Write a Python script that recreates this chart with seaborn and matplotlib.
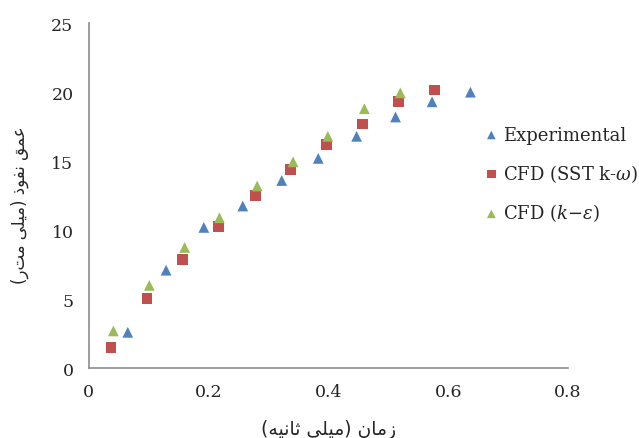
import numpy as np
import pandas as pd
import matplotlib
matplotlib.use("Agg")
import matplotlib.pyplot as plt
import seaborn as sns

# --- DATA ---
exp_x = [0.065, 0.129, 0.192, 0.257, 0.322, 0.383, 0.447, 0.512, 0.573, 0.637]
exp_y = [2.6, 7.1, 10.2, 11.75, 13.6, 15.2, 16.8, 18.2, 19.3, 20.0]

sst_x = [0.037, 0.097, 0.157, 0.217, 0.278, 0.337, 0.397, 0.457, 0.517, 0.577]
sst_y = [1.5, 5.05, 7.9, 10.25, 12.5, 14.4, 16.2, 17.7, 19.35, 20.15]

ke_x = [0.041, 0.101, 0.160, 0.218, 0.281, 0.341, 0.399, 0.460, 0.520]
ke_y = [2.7, 6.0, 8.75, 10.9, 13.2, 14.95, 16.8, 18.8, 19.95]

series_labels = ["Experimental", r"CFD (SST k-$\omega$)", r"CFD ($k\mathrm{-}\varepsilon$)"]
series_colors = ["#4F81BD", "#C0504D", "#9BBB59"]
series_markers = ["^", "s", "^"]

x_label = "زمان (میلی ثانیه)"
y_label = "عمق نفوذ (میلی متر)"

# --- minimal Arabic/Persian shaping (matplotlib has no bidi / joining) ---
FORMS = {
    # iso, fin, ini, med (None = right-joining only)
    "ز": ("\uFEAF", "\uFEB0", None, None),
    "ا": ("\uFE8D", "\uFE8E", None, None),
    "و": ("\uFEED", "\uFEEE", None, None),
    "ذ": ("\uFEAB", "\uFEAC", None, None),
    "م": ("\uFEE1", "\uFEE2", "\uFEE3", "\uFEE4"),
    "ن": ("\uFEE5", "\uFEE6", "\uFEE7", "\uFEE8"),
    "ی": ("\uFBFC", "\uFBFD", "\uFBFE", "\uFBFF"),
    "ل": ("\uFEDD", "\uFEDE", "\uFEDF", "\uFEE0"),
    "ث": ("\uFE99", "\uFE9A", "\uFE9B", "\uFE9C"),
    "ه": ("\uFEE9", "\uFEEA", "\uFEEB", "\uFEEC"),
    "ع": ("\uFEC9", "\uFECA", "\uFECB", "\uFECC"),
    "ق": ("\uFED5", "\uFED6", "\uFED7", "\uFED8"),
    "ف": ("\uFED1", "\uFED2", "\uFED3", "\uFED4"),
    "ت": ("\uFE95", "\uFE96", "\uFE97", "\uFE98"),
}


def shape_rtl(text):
    out = []
    n = len(text)
    for i, ch in enumerate(text):
        if ch not in FORMS:
            out.append(ch)
            continue
        prev = text[i - 1] if i > 0 else ""
        nxt = text[i + 1] if i < n - 1 else ""
        joins_prev = prev in FORMS and FORMS[prev][2] is not None
        can_next = FORMS[ch][2] is not None and nxt in FORMS
        iso, fin, ini, med = FORMS[ch]
        if joins_prev and can_next:
            out.append(med)
        elif joins_prev:
            out.append(fin)
        elif can_next:
            out.append(ini)
        else:
            out.append(iso)
    vis = "".join(out)[::-1]
    return vis.translate(str.maketrans("()", ")("))


# --- PLOT ---
sns.set_theme(style="white")
plt.rcParams["font.family"] = ["DejaVu Serif"]
plt.rcParams["mathtext.fontset"] = "dejavuserif"

fig = plt.figure(figsize=(6.39, 4.39), dpi=100)
ax = fig.add_axes([0.139, 0.159, 0.75, 0.786])

for xs, ys, lab, col, mk in zip([exp_x, sst_x, ke_x], [exp_y, sst_y, ke_y],
                                series_labels, series_colors, series_markers):
    df = pd.DataFrame({"t": xs, "d": ys})
    sns.scatterplot(data=df, x="t", y="d", color=col, marker=mk, s=60,
                    edgecolor="none", label=lab, ax=ax)

ax.set_xlim(0, 0.8)
ax.set_ylim(0, 25)
ax.set_xticks([0, 0.2, 0.4, 0.6, 0.8])
ax.set_xticklabels(["0", "0.2", "0.4", "0.6", "0.8"])
ax.set_yticks([0, 5, 10, 15, 20, 25])

for side in ["top", "right"]:
    ax.spines[side].set_visible(False)
for side in ["left", "bottom"]:
    ax.spines[side].set_color("#8C8C8C")
    ax.spines[side].set_linewidth(1.2)
ax.tick_params(axis="both", direction="out", length=5, width=1.2,
               color="#8C8C8C", labelsize=12.5, labelcolor="#262626", pad=6)

ax.set_xlabel(shape_rtl(x_label), family=["DejaVu Sans"], fontsize=13.5,
              color="#262626", labelpad=13)
ax.set_ylabel(shape_rtl(y_label), family=["DejaVu Sans"], fontsize=12,
              color="#262626")
ax.yaxis.set_label_coords(-0.125, 0.475)

ax.legend(loc="center left", bbox_to_anchor=(0.759, 0.6), bbox_transform=fig.transFigure,
          frameon=False, fontsize=13, handlelength=0.7, handletextpad=0.3,
          borderpad=0, borderaxespad=0, labelspacing=1.0, markerscale=0.8)

fig.savefig("out.png", dpi=100)
